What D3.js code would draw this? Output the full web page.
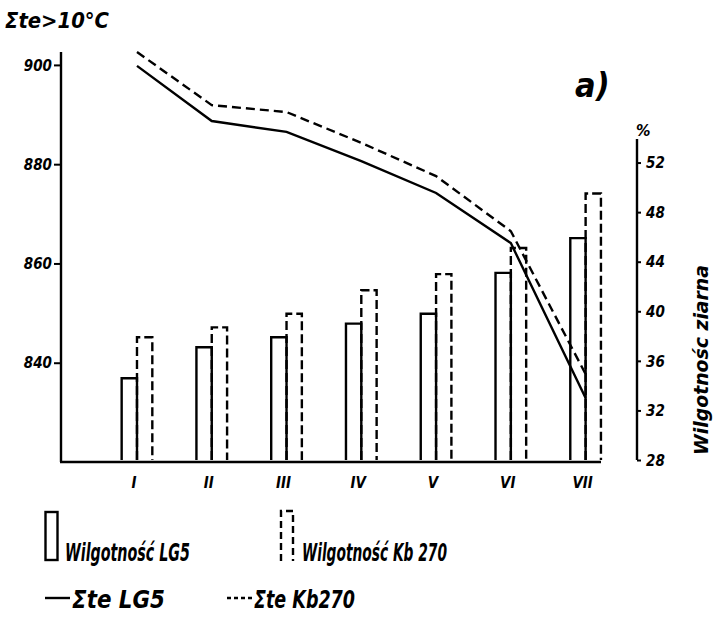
<!DOCTYPE html>
<html>
<head>
<meta charset="utf-8">
<script src="https://cdn.jsdelivr.net/npm/d3@7"></script>
<style>
  html, body { margin: 0; padding: 0; background: #fff; }
  svg { display: block; }
  text { font-family: "DejaVu Sans Condensed", "DejaVu Sans", sans-serif; font-style: italic; font-weight: bold; fill: #000; }
</style>
</head>
<body>
<svg id="chart" width="716" height="618"></svg>
<script>
// Terms of sampling (Roman numerals)
const terms = ["I", "II", "III", "IV", "V", "VI", "VII"];
// Grain moisture, %
const moistureLG5 = [34.6, 37.1, 37.9, 39.0, 39.8, 43.1, 45.9];
const moistureKb270 = [37.9, 38.7, 39.8, 41.7, 43.0, 45.1, 49.5];
// Sum of effective temperatures > 10 °C
const sumTeLG5 = [899.8, 888.7, 886.5, 880.6, 874.2, 864.1, 832.9];
const sumTeKb270 = [902.6, 891.9, 890.5, 884.3, 877.6, 866.5, 837.7];
// Axis ticks
const leftTicks = [840, 860, 880, 900];
const rightTicks = [28, 32, 36, 40, 44, 48, 52];

const svg = d3.select("#chart");
const ink = "#000";
const sw = 2.4;

const x = d3.scaleBand().domain(terms).range([99.6, 623]).padding(0);
const yL = d3.scaleLinear().domain([820, 902.6]).range([462, 52]);
const yR = d3.scaleLinear().domain([28, 53.9]).range([460, 139]);
const barW = x.bandwidth() * 0.205;
const cx = t => x(t) + x.bandwidth() / 2;

// Left axis (sum of temperatures)
const gL = svg.append("g").attr("transform", "translate(61,0)")
  .call(d3.axisLeft(yL).tickValues(leftTicks).tickSize(7).tickPadding(2).tickFormat(d3.format("d")));
gL.select(".domain").attr("stroke", ink).attr("stroke-width", sw).attr("d", `M0,${yL(902.6)}V${yL(820)}`);
gL.selectAll(".tick line").attr("stroke", ink).attr("stroke-width", 2);
gL.selectAll(".tick text").attr("font-size", 15).attr("font-family", null).attr("dy", "0.35em").attr("y", 0);

// Right axis (moisture)
const gR = svg.append("g").attr("transform", "translate(637,0)")
  .call(d3.axisRight(yR).tickValues(rightTicks).tickSize(4).tickPadding(5));
gR.select(".domain").attr("stroke", ink).attr("stroke-width", sw).attr("d", `M0,${yR(53.9)}V${yR(28)}`);
gR.selectAll(".tick line").attr("stroke", ink).attr("stroke-width", 2);
gR.selectAll(".tick text").attr("font-size", 15).attr("font-family", null).attr("dy", "0.35em").attr("y", 0);

// Bottom axis with category labels
const gB = svg.append("g").attr("transform", "translate(-3,462)")
  .call(d3.axisBottom(x).tickSize(0).tickPadding(15));
gB.select(".domain").remove();
gB.selectAll(".tick text").attr("font-size", 15).attr("font-family", null);
svg.append("line").attr("x1", 60).attr("x2", 601).attr("y1", 462).attr("y2", 462)
  .attr("stroke", ink).attr("stroke-width", sw);

// Bars: LG 5 solid, Kb 270 dashed
const bars = svg.append("g").attr("fill", "none").attr("stroke", ink).attr("stroke-width", sw);
const barPath = (x0, v) => `M${x0},${yR(28)}V${yR(v)}H${x0 + barW}V${yR(28)}`;
bars.selectAll(".lg").data(terms).join("path").attr("class", "lg")
  .attr("d", (t, i) => barPath(cx(t) - barW, moistureLG5[i]));
bars.selectAll(".kb").data(terms).join("path").attr("class", "kb")
  .attr("stroke-dasharray", "9,4")
  .attr("d", (t, i) => barPath(cx(t), moistureKb270[i]));

// Temperature-sum lines
const line = vals => d3.line().x((t) => cx(t)).y((t, i) => yL(vals[i]))(terms);
svg.append("path").attr("d", line(sumTeLG5)).attr("fill", "none").attr("stroke", ink).attr("stroke-width", sw);
svg.append("path").attr("d", line(sumTeKb270)).attr("fill", "none").attr("stroke", ink)
  .attr("stroke-width", sw).attr("stroke-dasharray", "9,5");

// Titles
svg.append("text").attr("x", 5).attr("y", 28).attr("font-size", 21)
  .attr("textLength", 104).attr("lengthAdjust", "spacingAndGlyphs").text("Σte>10°C");
svg.append("text").attr("x", 575).attr("y", 97).attr("font-size", 34).attr("font-weight", "normal").text("a)");
svg.append("text").attr("x", 636).attr("y", 136).attr("font-size", 16).text("%");
svg.append("text").attr("transform", "translate(708,360) rotate(-90)").attr("text-anchor", "middle")
  .attr("font-size", 20).attr("textLength", 190).attr("lengthAdjust", "spacingAndGlyphs").text("Wilgotnośc ziarna");

// Legend
const lg = svg.append("g");
lg.append("rect").attr("x", 45.5).attr("y", 512).attr("width", 12).attr("height", 48)
  .attr("fill", "none").attr("stroke", ink).attr("stroke-width", sw);
lg.append("text").attr("x", 65).attr("y", 561).attr("font-size", 25)
  .attr("textLength", 125).attr("lengthAdjust", "spacingAndGlyphs").text("Wilgotność LG5");
lg.append("path").attr("d", "M281,561V511H293V561").attr("fill", "none").attr("stroke", ink)
  .attr("stroke-width", sw).attr("stroke-dasharray", "7,4");
lg.append("text").attr("x", 302).attr("y", 561).attr("font-size", 25)
  .attr("textLength", 145).attr("lengthAdjust", "spacingAndGlyphs").text("Wilgotność Kb 270");
lg.append("line").attr("x1", 45).attr("x2", 70).attr("y1", 598).attr("y2", 598).attr("stroke", ink).attr("stroke-width", sw);
lg.append("text").attr("x", 72).attr("y", 608).attr("font-size", 24)
  .attr("textLength", 93).attr("lengthAdjust", "spacingAndGlyphs").text("Σte  LG5");
lg.append("line").attr("x1", 227).attr("x2", 252).attr("y1", 598).attr("y2", 598).attr("stroke", ink)
  .attr("stroke-width", sw).attr("stroke-dasharray", "4,3");
lg.append("text").attr("x", 254).attr("y", 608).attr("font-size", 24)
  .attr("textLength", 101).attr("lengthAdjust", "spacingAndGlyphs").text("Σte  Kb270");
</script>
</body>
</html>
